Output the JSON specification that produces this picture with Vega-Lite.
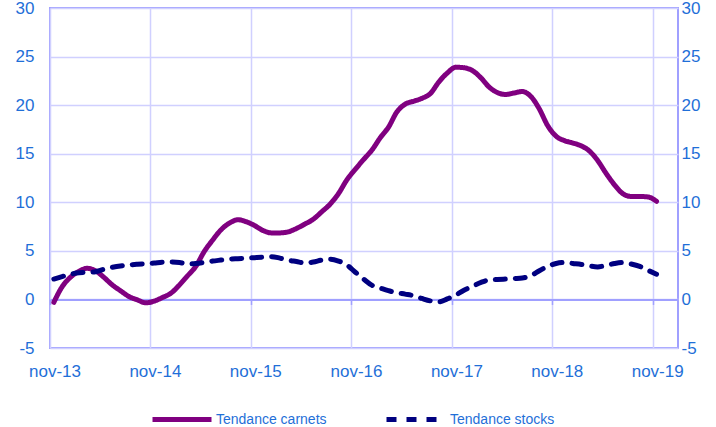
{
  "$schema": "https://vega.github.io/schema/vega-lite/v6.json",
  "width": 628,
  "height": 340,
  "autosize": {"type": "none"},
  "padding": {"left": 50, "top": 8, "right": 38, "bottom": 79},
  "config": {
    "font": "Liberation Sans",
    "view": {"stroke": "#A0A0FF", "strokeWidth": 2},
    "axis": {"labelFont": "Liberation Sans", "labelFontSize": 17, "labelColor": "#1F6FD8", "title": null}
  },
  "data": {
    "values": [
      {"date": "2013-11-15", "Tendance carnets": -0.3, "Tendance stocks": 2.1},
      {"date": "2013-12-15", "Tendance carnets": 1.3, "Tendance stocks": 2.35},
      {"date": "2014-01-15", "Tendance carnets": 2.3, "Tendance stocks": 2.6},
      {"date": "2014-02-15", "Tendance carnets": 2.9, "Tendance stocks": 2.75},
      {"date": "2014-03-15", "Tendance carnets": 3.2, "Tendance stocks": 2.78},
      {"date": "2014-04-15", "Tendance carnets": 2.95, "Tendance stocks": 2.85},
      {"date": "2014-05-15", "Tendance carnets": 2.3, "Tendance stocks": 3.1},
      {"date": "2014-06-15", "Tendance carnets": 1.5, "Tendance stocks": 3.3},
      {"date": "2014-07-15", "Tendance carnets": 0.9, "Tendance stocks": 3.45},
      {"date": "2014-08-15", "Tendance carnets": 0.3, "Tendance stocks": 3.55},
      {"date": "2014-09-15", "Tendance carnets": -0.05, "Tendance stocks": 3.62},
      {"date": "2014-10-15", "Tendance carnets": -0.35, "Tendance stocks": 3.68},
      {"date": "2014-11-15", "Tendance carnets": -0.17, "Tendance stocks": 3.75},
      {"date": "2014-12-15", "Tendance carnets": 0.2, "Tendance stocks": 3.83},
      {"date": "2015-01-15", "Tendance carnets": 0.65, "Tendance stocks": 3.85},
      {"date": "2015-02-15", "Tendance carnets": 1.5, "Tendance stocks": 3.8},
      {"date": "2015-03-15", "Tendance carnets": 2.4, "Tendance stocks": 3.65},
      {"date": "2015-04-15", "Tendance carnets": 3.4, "Tendance stocks": 3.7},
      {"date": "2015-05-15", "Tendance carnets": 4.9, "Tendance stocks": 3.8},
      {"date": "2015-06-15", "Tendance carnets": 6.1, "Tendance stocks": 3.95},
      {"date": "2015-07-15", "Tendance carnets": 7.15, "Tendance stocks": 4.05},
      {"date": "2015-08-15", "Tendance carnets": 7.85, "Tendance stocks": 4.15},
      {"date": "2015-09-15", "Tendance carnets": 8.2, "Tendance stocks": 4.2},
      {"date": "2015-10-15", "Tendance carnets": 8.0, "Tendance stocks": 4.25},
      {"date": "2015-11-15", "Tendance carnets": 7.6, "Tendance stocks": 4.3},
      {"date": "2015-12-15", "Tendance carnets": 7.1, "Tendance stocks": 4.35},
      {"date": "2016-01-15", "Tendance carnets": 6.85, "Tendance stocks": 4.4},
      {"date": "2016-02-15", "Tendance carnets": 6.85, "Tendance stocks": 4.25},
      {"date": "2016-03-15", "Tendance carnets": 6.95, "Tendance stocks": 4.05},
      {"date": "2016-04-15", "Tendance carnets": 7.3, "Tendance stocks": 3.9},
      {"date": "2016-05-15", "Tendance carnets": 7.75, "Tendance stocks": 3.75},
      {"date": "2016-06-15", "Tendance carnets": 8.25, "Tendance stocks": 3.85},
      {"date": "2016-07-15", "Tendance carnets": 9.0, "Tendance stocks": 4.05},
      {"date": "2016-08-15", "Tendance carnets": 9.8, "Tendance stocks": 4.15},
      {"date": "2016-09-15", "Tendance carnets": 10.9, "Tendance stocks": 3.95},
      {"date": "2016-10-15", "Tendance carnets": 12.3, "Tendance stocks": 3.55},
      {"date": "2016-11-15", "Tendance carnets": 13.4, "Tendance stocks": 2.8},
      {"date": "2016-12-15", "Tendance carnets": 14.4, "Tendance stocks": 2.1},
      {"date": "2017-01-15", "Tendance carnets": 15.4, "Tendance stocks": 1.45},
      {"date": "2017-02-15", "Tendance carnets": 16.7, "Tendance stocks": 1.15},
      {"date": "2017-03-15", "Tendance carnets": 17.7, "Tendance stocks": 0.9},
      {"date": "2017-04-15", "Tendance carnets": 19.3, "Tendance stocks": 0.7},
      {"date": "2017-05-15", "Tendance carnets": 20.1, "Tendance stocks": 0.55},
      {"date": "2017-06-15", "Tendance carnets": 20.4, "Tendance stocks": 0.38},
      {"date": "2017-07-15", "Tendance carnets": 20.7, "Tendance stocks": 0.1},
      {"date": "2017-08-15", "Tendance carnets": 21.2, "Tendance stocks": -0.15},
      {"date": "2017-09-15", "Tendance carnets": 22.4, "Tendance stocks": -0.25},
      {"date": "2017-10-15", "Tendance carnets": 23.3, "Tendance stocks": 0.05},
      {"date": "2017-11-15", "Tendance carnets": 23.9, "Tendance stocks": 0.45},
      {"date": "2017-12-15", "Tendance carnets": 23.85, "Tendance stocks": 0.95},
      {"date": "2018-01-15", "Tendance carnets": 23.55, "Tendance stocks": 1.35},
      {"date": "2018-02-15", "Tendance carnets": 22.8, "Tendance stocks": 1.75},
      {"date": "2018-03-15", "Tendance carnets": 21.9, "Tendance stocks": 2.0},
      {"date": "2018-04-15", "Tendance carnets": 21.3, "Tendance stocks": 2.05},
      {"date": "2018-05-15", "Tendance carnets": 21.1, "Tendance stocks": 2.1},
      {"date": "2018-06-15", "Tendance carnets": 21.25, "Tendance stocks": 2.15},
      {"date": "2018-07-15", "Tendance carnets": 21.4, "Tendance stocks": 2.2},
      {"date": "2018-08-15", "Tendance carnets": 20.9, "Tendance stocks": 2.45},
      {"date": "2018-09-15", "Tendance carnets": 19.6, "Tendance stocks": 2.95},
      {"date": "2018-10-15", "Tendance carnets": 17.9, "Tendance stocks": 3.4},
      {"date": "2018-11-15", "Tendance carnets": 16.8, "Tendance stocks": 3.7},
      {"date": "2018-12-15", "Tendance carnets": 16.35, "Tendance stocks": 3.8},
      {"date": "2019-01-15", "Tendance carnets": 16.1, "Tendance stocks": 3.7},
      {"date": "2019-02-15", "Tendance carnets": 15.8, "Tendance stocks": 3.6},
      {"date": "2019-03-15", "Tendance carnets": 15.3, "Tendance stocks": 3.45},
      {"date": "2019-04-15", "Tendance carnets": 14.3, "Tendance stocks": 3.35},
      {"date": "2019-05-15", "Tendance carnets": 13.0, "Tendance stocks": 3.5},
      {"date": "2019-06-15", "Tendance carnets": 11.8, "Tendance stocks": 3.7},
      {"date": "2019-07-15", "Tendance carnets": 10.9, "Tendance stocks": 3.8},
      {"date": "2019-08-15", "Tendance carnets": 10.6, "Tendance stocks": 3.65},
      {"date": "2019-09-15", "Tendance carnets": 10.6, "Tendance stocks": 3.4},
      {"date": "2019-10-15", "Tendance carnets": 10.55, "Tendance stocks": 3.0},
      {"date": "2019-11-15", "Tendance carnets": 10.1, "Tendance stocks": 2.6}
    ]
  },
  "transform": [
    {"fold": ["Tendance carnets", "Tendance stocks"], "as": ["series", "value"]}
  ],
  "resolve": {"axis": {"x": "independent", "y": "independent"}},
  "layer": [
    {
      "transform": [{"filter": "datum.series === 'Tendance carnets'"}],
      "mark": {"type": "line", "strokeWidth": 5, "strokeCap": "round", "strokeJoin": "round", "interpolate": "monotone"},
      "encoding": {
        "x": {
          "field": "date", "type": "temporal",
          "scale": {"type": "utc", "domain": [{"year": 2013, "month": 11, "date": 1, "utc": true}, {"year": 2020, "month": 2, "date": 1, "utc": true}]},
          "axis": {
            "orient": "bottom",
            "values": [
              {"year": 2013, "month": 11, "date": 1, "utc": true},
              {"year": 2014, "month": 11, "date": 1, "utc": true},
              {"year": 2015, "month": 11, "date": 1, "utc": true},
              {"year": 2016, "month": 11, "date": 1, "utc": true},
              {"year": 2017, "month": 11, "date": 1, "utc": true},
              {"year": 2018, "month": 11, "date": 1, "utc": true},
              {"year": 2019, "month": 11, "date": 1, "utc": true}
            ],
            "labelExpr": "lower(utcFormat(datum.value, '%b-%y'))",
            "labelOffset": 4.5,
            "labelPadding": 15,
            "labelOverlap": false,
            "labelFlush": false,
            "domain": false,
            "ticks": false,
            "grid": true,
            "gridColor": "#D0D0FF",
            "gridWidth": 1.5
          }
        },
        "y": {
          "field": "value", "type": "quantitative",
          "scale": {"domain": [-5, 30], "nice": false, "zero": false},
          "axis": {
            "orient": "left",
            "values": [-5, 0, 5, 10, 15, 20, 25, 30],
            "labelExpr": "datum.value < 0 ? '-' + abs(datum.value) : '' + datum.value",
            "domain": false,
            "ticks": false,
            "labelPadding": 16,
            "grid": true,
            "gridColor": "#D0D0FF",
            "gridWidth": 1.5
          }
        },
        "color": {
          "field": "series", "type": "nominal",
          "scale": {"domain": ["Tendance carnets", "Tendance stocks"], "range": ["#800080", "#000080"]},
          "legend": {
            "title": null,
            "orient": "none",
            "direction": "horizontal",
            "legendX": 100,
            "legendY": 379.5,
            "symbolType": "stroke",
            "symbolSize": 3481,
            "symbolStrokeWidth": 5,
            "labelFont": "Liberation Sans",
            "labelFontSize": 14,
            "labelColor": "#1F6FD8",
            "labelOffset": 2,
            "columnPadding": 49
          }
        },
        "strokeDash": {
          "field": "series", "type": "nominal",
          "scale": {"domain": ["Tendance carnets", "Tendance stocks"], "range": [[1, 0], [10, 10]]},
          "legend": null
        }
      }
    },
    {
      "transform": [{"filter": "datum.series === 'Tendance stocks'"}],
      "mark": {"type": "line", "strokeWidth": 5, "strokeCap": "round", "strokeJoin": "round", "interpolate": "monotone"},
      "encoding": {
        "x": {
          "field": "date", "type": "temporal",
          "axis": {
            "orient": "bottom",
            "offset": -48.57,
            "values": [
              {"year": 2013, "month": 11, "date": 1, "utc": true},
              {"year": 2014, "month": 11, "date": 1, "utc": true},
              {"year": 2015, "month": 11, "date": 1, "utc": true},
              {"year": 2016, "month": 11, "date": 1, "utc": true},
              {"year": 2017, "month": 11, "date": 1, "utc": true},
              {"year": 2018, "month": 11, "date": 1, "utc": true},
              {"year": 2019, "month": 11, "date": 1, "utc": true}
            ],
            "labels": false,
            "grid": false,
            "domain": true,
            "domainColor": "#A0A0FF",
            "domainWidth": 2,
            "ticks": true,
            "tickColor": "#A0A0FF",
            "tickWidth": 1.5,
            "tickSize": 5
          }
        },
        "y": {
          "field": "value", "type": "quantitative",
          "axis": {
            "orient": "right",
            "values": [-5, 0, 5, 10, 15, 20, 25, 30],
            "labelExpr": "datum.value < 0 ? '-' + abs(datum.value) : '' + datum.value",
            "domain": false,
            "ticks": false,
            "labelPadding": 3,
            "grid": false
          }
        },
        "color": {"field": "series", "type": "nominal"},
        "strokeDash": {"field": "series", "type": "nominal"}
      }
    }
  ]
}
